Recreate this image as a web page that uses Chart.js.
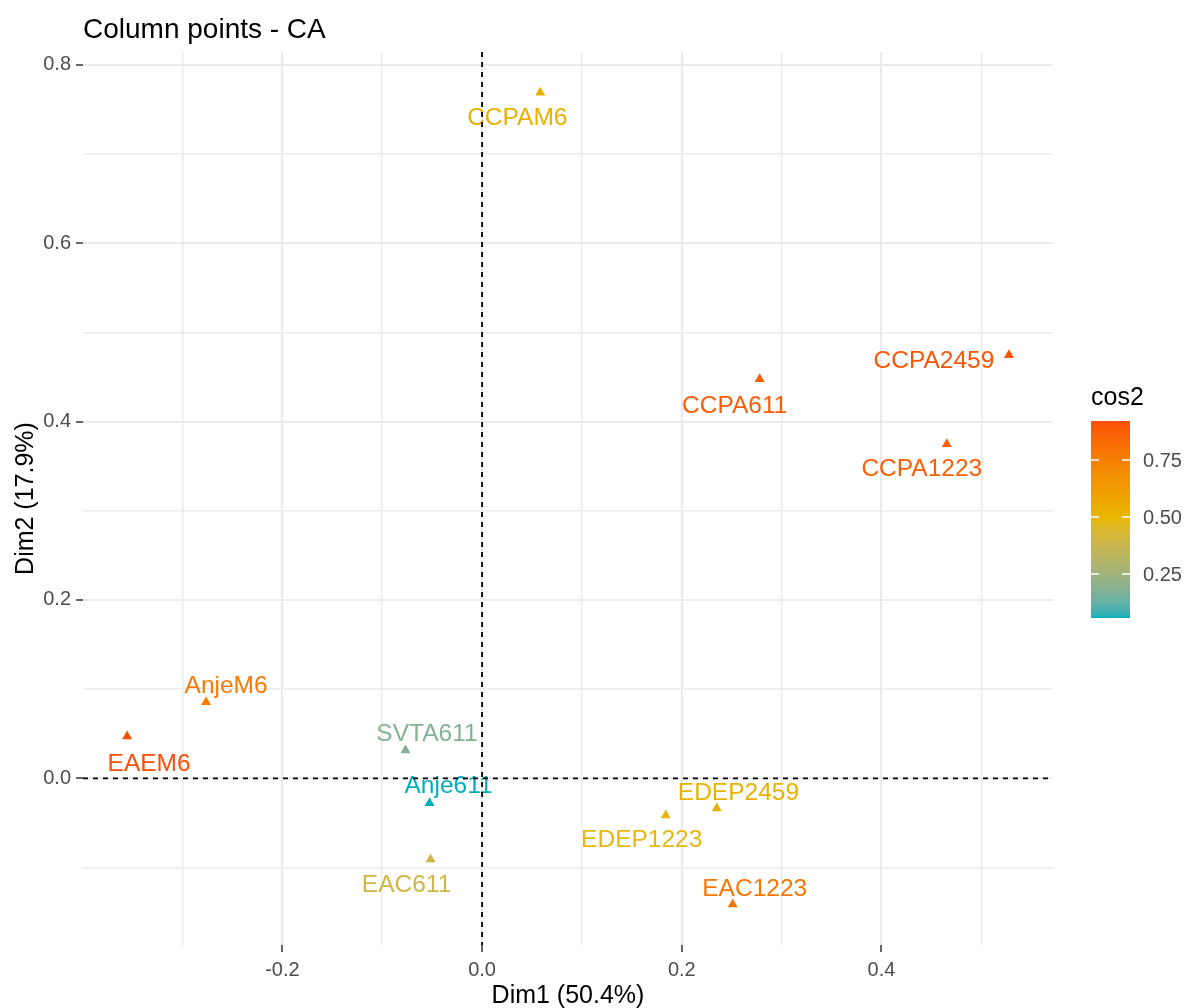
<!DOCTYPE html>
<html>
<head>
<meta charset="utf-8">
<script src="https://cdn.jsdelivr.net/npm/chart.js@4.4.0/dist/chart.umd.min.js"></script>
<style>
  html, body { margin: 0; padding: 0; background: #fff; }
</style>
</head>
<body>
<canvas id="chart1" width="1186" height="1008"></canvas>
<script>
const pointNames = ['CCPAM6', 'CCPA2459', 'CCPA611', 'CCPA1223', 'AnjeM6', 'EAEM6', 'SVTA611', 'Anje611', 'EAC611', 'EDEP2459', 'EDEP1223', 'EAC1223'];
const dim1 = [0.0583, 0.5276, 0.2780, 0.4654, -0.2764, -0.3555, -0.0767, -0.0526, -0.0516, 0.2350, 0.1839, 0.2510];
const dim2 = [0.7690, 0.4747, 0.4478, 0.3749, 0.0856, 0.0471, 0.0314, -0.0277, -0.0909, -0.0337, -0.0415, -0.1414];
const cos2 = [0.53, 0.90, 0.88, 0.87, 0.77, 0.921, 0.18, 0.057, 0.40, 0.52, 0.48, 0.78];

const xTicks = [-0.3, -0.2, -0.1, 0.0, 0.1, 0.2, 0.3, 0.4, 0.5];
const yTicks = [-0.1, 0.0, 0.1, 0.2, 0.3, 0.4, 0.5, 0.6, 0.7, 0.8];
const legendTicks = [0.25, 0.50, 0.75];
const gradientCols = ['#00AFBB', '#E7B800', '#FC4E07'];

const titleText = 'Column points - CA';
const xTitle = 'Dim1 (50.4%)';
const yTitle = 'Dim2 (17.9%)';
const legendTitle = 'cos2';

// where the repelled labels ended up, px offset from the point
const labelShift = [[-23, 24], [-75, 4], [-25, 25], [-25, 23.5], [20, -18], [22, 26],
                    [21.5, -18], [19, -19], [-24, 23.5], [21.7, -17], [-24, 23], [22, -17.5]];

const FONT = "'Liberation Sans', Arial, sans-serif";

// ggplot style 5% expansion
function expand(arr) {
  const lo = Math.min(...arr), hi = Math.max(...arr);
  const pad = (hi - lo) * 0.05;
  return [lo - pad, hi + pad];
}
const xLim = expand(dim1);
const yLim = expand(dim2);
const cMin = Math.min(...cos2);
const cMax = Math.max(...cos2);

// colour ramp in Lab, like scales::gradient_n_pal
function hexToRgb(h) {
  return [parseInt(h.slice(1, 3), 16), parseInt(h.slice(3, 5), 16), parseInt(h.slice(5, 7), 16)];
}
function toLin(c) { c /= 255; return c <= 0.04045 ? c / 12.92 : Math.pow((c + 0.055) / 1.055, 2.4); }
function fromLin(c) {
  const v = c <= 0.0031308 ? 12.92 * c : 1.055 * Math.pow(c, 1 / 2.4) - 0.055;
  return Math.round(Math.max(0, Math.min(1, v)) * 255);
}
function rgbToLab(rgb) {
  const R = toLin(rgb[0]), G = toLin(rgb[1]), B = toLin(rgb[2]);
  const X = (0.4124 * R + 0.3576 * G + 0.1805 * B) / 0.95047;
  const Y = 0.2126 * R + 0.7152 * G + 0.0722 * B;
  const Z = (0.0193 * R + 0.1192 * G + 0.9505 * B) / 1.08883;
  const f = t => t > 0.008856 ? Math.cbrt(t) : 7.787 * t + 16 / 116;
  const fx = f(X), fy = f(Y), fz = f(Z);
  return [116 * fy - 16, 500 * (fx - fy), 200 * (fy - fz)];
}
function labToCss(lab) {
  const fy = (lab[0] + 16) / 116, fx = fy + lab[1] / 500, fz = fy - lab[2] / 200;
  const finv = t => t * t * t > 0.008856 ? t * t * t : (t - 16 / 116) / 7.787;
  const X = finv(fx) * 0.95047, Y = finv(fy), Z = finv(fz) * 1.08883;
  const R = 3.2406 * X - 1.5372 * Y - 0.4986 * Z;
  const G = -0.9689 * X + 1.8758 * Y + 0.0415 * Z;
  const B = 0.0557 * X - 0.2040 * Y + 1.0570 * Z;
  return 'rgb(' + fromLin(R) + ',' + fromLin(G) + ',' + fromLin(B) + ')';
}
const labStops = gradientCols.map(c => rgbToLab(hexToRgb(c)));

function colorFor(v) {
  let t = (v - cMin) / (cMax - cMin);
  t = Math.max(0, Math.min(1, t));
  const seg = t < 0.5 ? 0 : 1;
  const k = (t - seg * 0.5) / 0.5;
  const a = labStops[seg], b = labStops[seg + 1];
  return labToCss([a[0] + (b[0] - a[0]) * k, a[1] + (b[1] - a[1]) * k, a[2] + (b[2] - a[2]) * k]);
}

function isMajor(v) {
  return Math.abs(Math.round(v * 10)) % 2 === 0;
}

const points = dim1.map((x, i) => ({ x: x, y: dim2[i] }));
const pointColors = cos2.map(colorFor);

const decor = {
  id: 'decor',
  afterDatasetsDraw(chart) {
    const ctx = chart.ctx;
    const xs = chart.scales.x, ys = chart.scales.y;
    const area = chart.chartArea;

    // point labels
    ctx.save();
    ctx.font = '24.5px ' + FONT;
    ctx.textAlign = 'center';
    ctx.textBaseline = 'alphabetic';
    for (let i = 0; i < pointNames.length; i++) {
      const px = xs.getPixelForValue(dim1[i]);
      const py = ys.getPixelForValue(dim2[i]);
      ctx.fillStyle = pointColors[i];
      ctx.fillText(pointNames[i], px + labelShift[i][0], py + labelShift[i][1] + 8.7);
    }
    ctx.restore();

    // dashed zero lines
    ctx.save();
    ctx.strokeStyle = '#000000';
    ctx.lineWidth = 1.8;
    ctx.setLineDash([5, 5]);
    const x0 = xs.getPixelForValue(0);
    const y0 = ys.getPixelForValue(0);
    ctx.beginPath();
    ctx.moveTo(x0, area.top);
    ctx.lineTo(x0, area.bottom);
    ctx.stroke();
    ctx.beginPath();
    ctx.moveTo(area.left, y0);
    ctx.lineTo(area.right, y0);
    ctx.stroke();
    ctx.restore();
  },
  afterDraw(chart) {
    const ctx = chart.ctx;
    const area = chart.chartArea;
    ctx.save();
    ctx.fillStyle = '#000000';
    ctx.textBaseline = 'alphabetic';

    ctx.font = '28px ' + FONT;
    ctx.textAlign = 'left';
    ctx.fillText(titleText, 83, 38);

    ctx.font = '25px ' + FONT;
    ctx.textAlign = 'center';
    ctx.fillText(xTitle, (area.left + area.right) / 2, 1003);

    ctx.save();
    ctx.translate(33, (area.top + area.bottom) / 2);
    ctx.rotate(-Math.PI / 2);
    ctx.fillText(yTitle, 0, 0);
    ctx.restore();

    // colour bar legend
    const barL = 1091, barW = 39, barTop = 421, barBot = 618;
    ctx.textAlign = 'left';
    ctx.fillText(legendTitle, barL, 405);
    for (let y = barTop; y < barBot; y++) {
      const v = cMax - (y + 0.5 - barTop) / (barBot - barTop) * (cMax - cMin);
      ctx.fillStyle = colorFor(v);
      ctx.fillRect(barL, y, barW, 1);
    }
    ctx.strokeStyle = '#FFFFFF';
    ctx.lineWidth = 1.5;
    ctx.font = '20px ' + FONT;
    ctx.fillStyle = '#4D4D4D';
    legendTicks.forEach(v => {
      const y = barBot - (v - cMin) / (cMax - cMin) * (barBot - barTop);
      ctx.beginPath();
      ctx.moveTo(barL, y);
      ctx.lineTo(barL + 8, y);
      ctx.moveTo(barL + barW - 8, y);
      ctx.lineTo(barL + barW, y);
      ctx.stroke();
      ctx.fillText(v.toFixed(2), 1143, y + 7);
    });
    ctx.restore();
  }
};

const ctx1 = document.getElementById('chart1');

new Chart(ctx1, {
  type: 'scatter',
  data: {
    datasets: [{
      label: 'cos2',
      data: points,
      pointStyle: 'triangle',
      pointRadius: 5.8,
      pointHoverRadius: 5.8,
      pointBorderWidth: 0,
      pointBackgroundColor: pointColors,
      pointBorderColor: pointColors
    }]
  },
  options: {
    responsive: false,
    devicePixelRatio: 1,
    animation: false,
    layout: {
      padding: { top: 52, right: 133, bottom: 0, left: 0 }
    },
    plugins: {
      legend: { display: false },
      title: { display: false },
      tooltip: { enabled: false }
    },
    scales: {
      x: {
        type: 'linear',
        min: xLim[0],
        max: xLim[1],
        afterBuildTicks: s => { s.ticks = xTicks.map(v => ({ value: v })); },
        afterFit: s => { s.height = 63; },
        border: { display: false },
        grid: {
          color: '#EBEBEB',
          lineWidth: c => isMajor(c.tick.value) ? 2 : 1.5,
          drawTicks: true,
          tickLength: 7,
          tickWidth: 1.5,
          tickColor: c => isMajor(c.tick.value) ? '#333333' : 'rgba(0,0,0,0)'
        },
        ticks: {
          autoSkip: false,
          maxRotation: 0,
          padding: 6,
          color: '#4D4D4D',
          font: { family: FONT, size: 20 },
          callback: v => isMajor(v) ? v.toFixed(1) : ''
        }
      },
      y: {
        type: 'linear',
        min: yLim[0],
        max: yLim[1],
        afterBuildTicks: s => { s.ticks = yTicks.map(v => ({ value: v })); },
        afterFit: s => { s.width = 83; },
        border: { display: false },
        grid: {
          color: '#EBEBEB',
          lineWidth: c => isMajor(c.tick.value) ? 2 : 1.5,
          drawTicks: true,
          tickLength: 7,
          tickWidth: 1.5,
          tickColor: c => isMajor(c.tick.value) ? '#333333' : 'rgba(0,0,0,0)'
        },
        ticks: {
          autoSkip: false,
          padding: 5,
          color: '#4D4D4D',
          font: { family: FONT, size: 20 },
          callback: v => isMajor(v) ? v.toFixed(1) : ''
        }
      }
    }
  },
  plugins: [decor]
});
</script>
</body>
</html>
